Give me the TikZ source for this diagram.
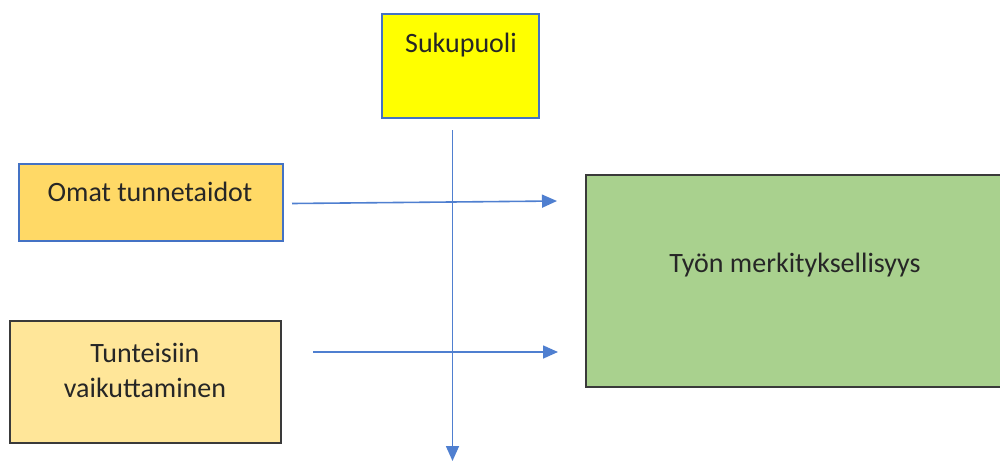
\documentclass[tikz,border=0pt]{standalone}
\usepackage{fontspec}
\setmainfont{Carlito}
\usetikzlibrary{arrows.meta}
\definecolor{bblue}{HTML}{4472C4}
\definecolor{conn}{HTML}{4F7FD0}
\definecolor{yel}{HTML}{FFFF00}
\definecolor{gold}{HTML}{FFD966}
\definecolor{lgold}{HTML}{FFE699}
\definecolor{grn}{HTML}{A9D18E}
\definecolor{dk}{HTML}{3A3A3A}
\begin{document}
\begin{tikzpicture}[x=1pt,y=-1pt,
  box/.style={draw, line width=2pt, inner sep=0pt},
  lbl/.style={font=\fontsize{28}{35}\selectfont, align=center, inner sep=0pt, text=black!85},
  conn/.style={draw=conn, line width=1.6pt, -{Triangle[length=15pt,width=13pt]}}]
\useasboundingbox (0,0) rectangle (1000,460);
\begin{scope}
\clip (0,0) rectangle (1000,460);
\node[box, draw=bblue, fill=yel, minimum width=157pt, minimum height=104pt] (suku) at (460.5,66) {};
\node[box, draw=bblue, fill=gold, minimum width=264pt, minimum height=77pt] (omat) at (151,202.5) {};
\node[box, draw=dk, line width=1.6pt, fill=lgold, minimum width=271pt, minimum height=122pt] (tunt) at (145.5,382) {};
\node[box, draw=dk, line width=1.6pt, fill=grn, minimum width=440pt, minimum height=212pt] (tyon) at (806,281) {};
\end{scope}
\node[lbl] (tsuku) at (461,45) {Sukupuoli};
\node[lbl] (tomat) at (150,192) {Omat tunnetaidot};
\node[lbl] (ttunt) at (145,370) {Tunteisiin\\vaikuttaminen};
\node[lbl] (ttyon) at (795,265) {Työn merkityksellisyys};
\coordinate (v1) at (452.5,130);
\coordinate (v2) at (452.5,461);
\coordinate (a1) at (292,203.5);
\coordinate (b1) at (557,201);
\coordinate (a2) at (313,352);
\coordinate (b2) at (558,352);
\draw[conn] (v1) -- (v2);
\draw[conn] (a1) -- (b1);
\draw[conn] (a2) -- (b2);
\end{tikzpicture}
\end{document}
